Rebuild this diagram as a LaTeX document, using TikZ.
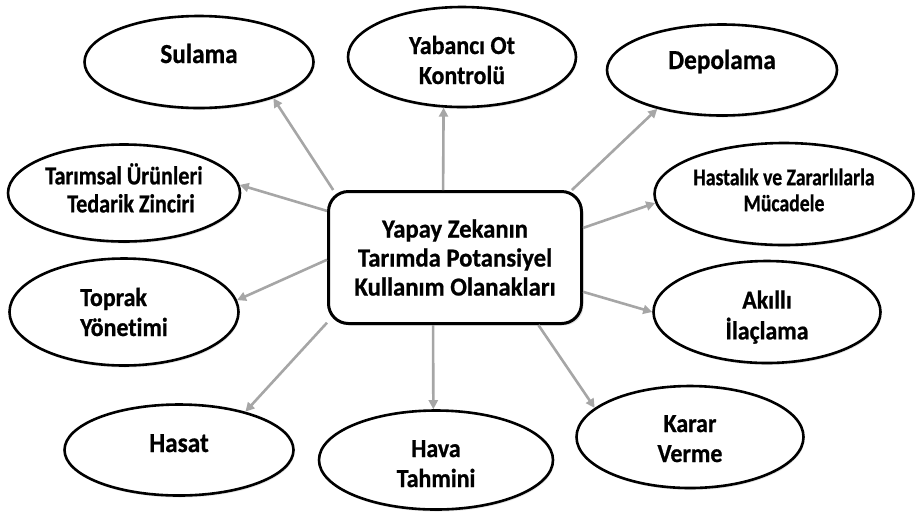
\documentclass[tikz,border=0pt]{standalone}
\usepackage{fontspec}
\setmainfont{Carlito}[Ligatures=NoCommon]
\newfontfamily\fbub{Carlito}[FakeStretch=0.92,Ligatures=NoCommon,BoldFeatures={FakeBold=0.7}]
\newfontfamily\fhub{Carlito}[FakeStretch=0.95,Ligatures=NoCommon,BoldFeatures={FakeBold=0.7}]
\newfontfamily\ftar{Carlito}[FakeStretch=0.85,Ligatures=NoCommon,BoldFeatures={FakeBold=0.7}]
\newfontfamily\fhas{Carlito}[FakeStretch=0.82,Ligatures=NoCommon,BoldFeatures={FakeBold=0.7}]
\usetikzlibrary{shapes.geometric,arrows.meta,shadows}
\definecolor{arrowgray}{HTML}{A6A6A6}
\newcommand\bubtext[3]{\raisebox{#1}[\height][\depth]{\begin{tabular}{@{}#2@{}}#3\end{tabular}}}
\begin{document}
\begin{tikzpicture}[x=1pt,y=-1pt,
  bub/.style={ellipse,draw=black,line width=2.6pt,fill=white,inner sep=0pt,align=center,
    font=\fbub\bfseries\fontsize{26}{30}\selectfont,
    drop shadow={opacity=0.22,shadow xshift=1pt,shadow yshift=-2pt}},
  bigbub/.style={bub,font=\fbub\bfseries\fontsize{27.5}{30}\selectfont},
  hub/.style={rectangle,rounded corners=20pt,draw=black,line width=3pt,fill=white,inner sep=0pt,
    align=center,font=\fhub\bfseries\fontsize{26}{29}\selectfont,
    drop shadow={opacity=0.25,shadow xshift=2pt,shadow yshift=-2pt}},
  link/.style={draw=arrowgray,line width=2.6pt,-{Triangle[length=9pt,width=9pt]}}]
\useasboundingbox (0,0) rectangle (917,515);

\node[hub,minimum width=253pt,minimum height=132pt] (box) at (455,257.5)
  {Yapay Zekanın\\Tarımda Potansiyel\\Kullanım Olanakları};

\node[bigbub,minimum width=229pt,minimum height=92pt] (sul) at (199,62) {\bubtext{5pt}{c}{Sulama}};
\node[bub,minimum width=228pt,minimum height=100pt] (yab) at (462,57) {\bubtext{-6pt}{c}{Yabancı Ot\\Kontrolü}};
\node[bigbub,minimum width=230pt,minimum height=91pt] (dep) at (722,70) {\bubtext{7pt}{c}{Depolama}};
\node[bub,minimum width=232pt,minimum height=97pt,font=\ftar\bfseries\fontsize{26}{28}\selectfont] (tar) at (124,193)
  {\bubtext{1pt}{c}{Tarımsal Ürünleri\\\hspace*{14pt}Tedarik Zinciri}};
\node[bub,minimum width=259pt,minimum height=102pt,font=\fhas\bfseries\fontsize{24}{26}\selectfont] (has) at (784,194)
  {\bubtext{1pt}{c}{Hastalık ve Zararlılarla\\Mücadele}};
\node[bub,minimum width=227pt,minimum height=102pt] (ak) at (767,312) {\bubtext{-6pt}{c}{Akıllı\\İlaçlama}};
\node[bub,minimum width=229pt,minimum height=107pt] (top) at (124,312) {\bubtext{-3pt}{l}{Toprak\\Yönetimi}};
\node[bigbub,minimum width=229pt,minimum height=91pt] (hst) at (179,450) {\bubtext{4pt}{c}{Hasat}};
\node[bub,minimum width=234pt,minimum height=99pt] (hav) at (436,460) {\bubtext{-6pt}{c}{Hava\\Tahmini}};
\node[bub,minimum width=227pt,minimum height=102pt] (kar) at (690,437) {\bubtext{-4pt}{c}{Karar\\Verme}};

\draw[link] (box.151) -- (sul.-26);
\draw[link] (box.100) -- (yab.-110);
\draw[link] (box.30) -- (dep.-149);
\draw[link] (box.13) -- (has.-176);
\draw[link] (box.-15) -- (ak.180);
\draw[link] (box.-39.5) -- (kar.163);
\draw[link] (box.-108) -- (hav.93);
\draw[link] (box.-153) -- (hst.30);
\draw[link] (box.181) -- (top.6);
\draw[link] (box.160) -- (tar.4);
\end{tikzpicture}
\end{document}
